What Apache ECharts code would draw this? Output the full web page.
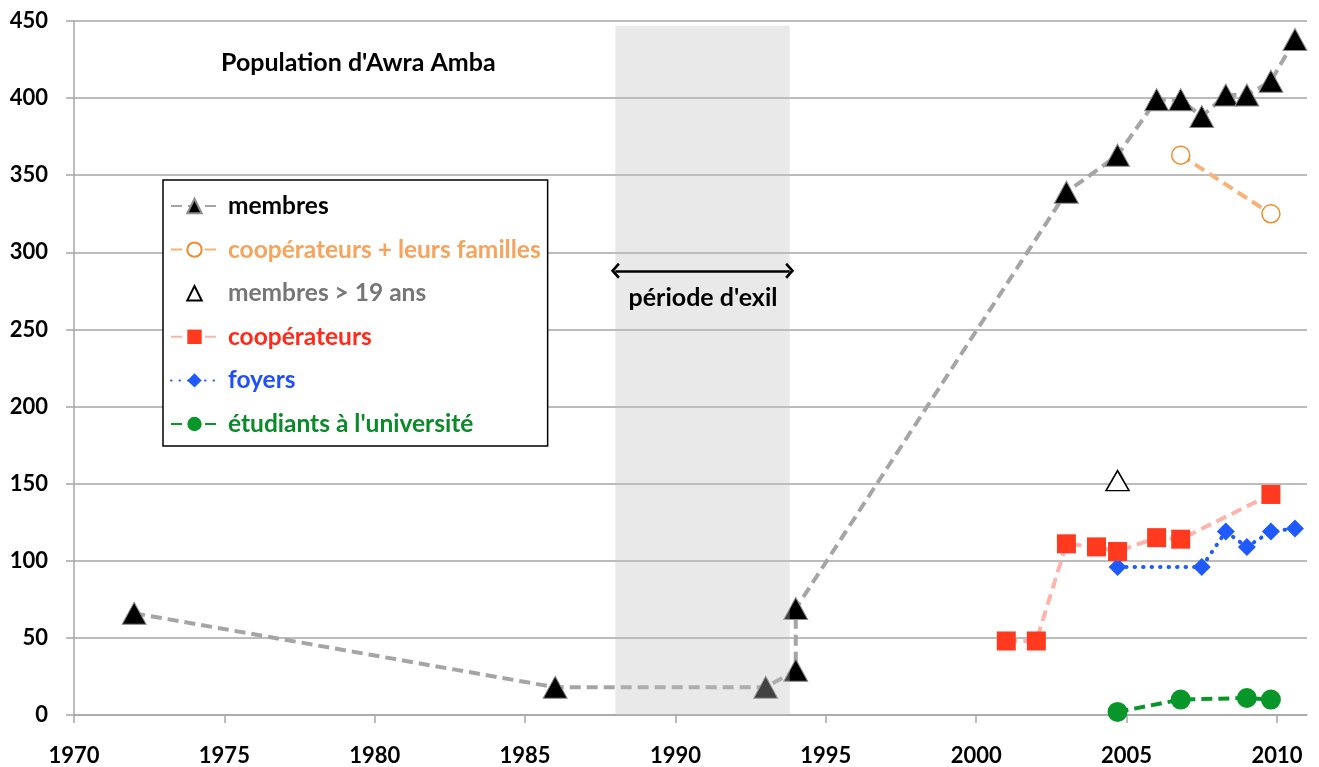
<!DOCTYPE html>
<html><head><meta charset="utf-8">
<script src="https://cdn.jsdelivr.net/npm/echarts@6/dist/echarts.min.js"></script>
<style>html,body{margin:0;padding:0;background:#fff}#c{width:1319px;height:767px}</style>
</head><body><div id="c"></div>
<script>
// ---- data ----
const membresYears  = [1972, 1986, 1993, 1994, 1994, 2003, 2004.7, 2006.0, 2006.8, 2007.5, 2008.3, 2009.0, 2009.8, 2010.6];
const membresValues = [66, 18, 18, 29, 69, 339, 363, 399, 399, 388, 402, 402, 411, 438];
const coopFamYears  = [2006.8, 2009.8];
const coopFamValues = [363, 325];
const adultYears    = [2004.7];
const adultValues   = [152];
const coopYears     = [2001, 2002, 2003, 2004, 2004.7, 2006, 2006.8, 2009.8];
const coopValues    = [48, 48, 111, 109, 106, 115, 114, 143];
const foyersYears   = [2004.7, 2007.5, 2008.3, 2009.0, 2009.8, 2010.6];
const foyersValues  = [96, 96, 119, 109, 119, 121];
const etudYears     = [2004.7, 2006.8, 2009.0, 2009.8];
const etudValues    = [2, 10, 11, 10];
const exileYears    = [1988, 1993.8];
const arrowLevel    = 288;
const xTickLabels   = [1970, 1975, 1980, 1985, 1990, 1995, 2000, 2005, 2010];
const seriesNames   = ['membres', 'coopérateurs + leurs familles', 'membres > 19 ans', 'coopérateurs', 'foyers', "étudiants à l'université"];
const titleText     = "Population d'Awra Amba";
const exileText     = "période d'exil";

const pairs = (xs, ys) => xs.map((x, i) => [x, ys[i]]);
const FONT = 'Lato';
const chevron = 'path://M8,0 L16,8 L14,10 L8,4 L2,10 L0,8 Z';

const chart = echarts.init(document.getElementById('c'), null, {renderer: 'canvas'});
chart.setOption({
  backgroundColor: '#fff',
  animation: false,
  grid: {left: 74, right: 12, top: 21, bottom: 52},
  title: [
    {text: titleText, left: 221, top: 50, padding: 0, z: 20,
     textStyle: {fontFamily: FONT, fontWeight: 'bold', fontSize: 25, color: '#000'}},
    {text: exileText, left: 703, textAlign: 'center', top: 285, padding: 0, z: 20,
     textStyle: {fontFamily: FONT, fontWeight: 'bold', fontSize: 25, color: '#000'}}
  ],
  legend: {
    orient: 'vertical', left: 163, top: 180,
    itemWidth: 47, itemHeight: 18, itemGap: 18.6,
    padding: [13.5, 7, 9.5, 7],
    borderColor: '#000', borderWidth: 1.5, backgroundColor: '#fff',
    selectedMode: false,
    textStyle: {fontFamily: FONT, fontWeight: 'bold', fontSize: 24.5, lineHeight: 25, padding: [0, 0, 0, 5]},
    data: [
      {name: seriesNames[0], textStyle: {color: '#000'}},
      {name: seriesNames[1], textStyle: {color: '#f7a35c'}},
      {name: seriesNames[2], textStyle: {color: '#767676'}},
      {name: seriesNames[3], textStyle: {color: '#ff2a1a'}},
      {name: seriesNames[4], textStyle: {color: '#1f4fff'}},
      {name: seriesNames[5], textStyle: {color: '#0a8a28'}}
    ]
  },
  xAxis: {
    type: 'value', min: 1970, max: 2011, interval: 5,
    axisLine: {show: true, onZero: false, lineStyle: {color: '#a6a6a6', width: 1.5}},
    axisTick: {show: true, length: 8, customValues: xTickLabels, lineStyle: {color: '#a6a6a6', width: 1.5}},
    axisLabel: {customValues: xTickLabels, formatter: v => String(v), margin: 30,
                fontFamily: FONT, fontWeight: 'bold', fontSize: 22, color: '#000'},
    splitLine: {show: false}
  },
  yAxis: {
    type: 'value', min: 0, max: 450, interval: 50,
    axisLine: {show: true, lineStyle: {color: '#a6a6a6', width: 1.5}},
    axisTick: {show: true, length: 8, lineStyle: {color: '#a6a6a6', width: 1.5}},
    axisLabel: {margin: 26, padding: [5, 0, 0, 0], fontFamily: FONT, fontWeight: 'bold', fontSize: 22, color: '#000'},
    splitLine: {show: true, lineStyle: {color: '#a6a6a6', width: 1.5}}
  },
  series: [
    {
      name: seriesNames[5], type: 'line', data: pairs(etudYears, etudValues),
      symbol: 'circle', symbolSize: 20,
      itemStyle: {color: '#08962a'},
      lineStyle: {color: '#08962a', width: 4, type: [11, 6]}
    },
    {
      name: seriesNames[4], type: 'line', data: pairs(foyersYears, foyersValues),
      symbol: 'diamond', symbolSize: 18,
      itemStyle: {color: '#1f5aff'},
      lineStyle: {color: '#1f5aff', width: 4, type: [0.5, 8], cap: 'round'}
    },
    {
      name: seriesNames[3], type: 'line', data: pairs(coopYears, coopValues),
      symbol: 'rect', symbolSize: 19,
      itemStyle: {color: '#ff3a1f'},
      lineStyle: {color: '#ffb3ad', width: 4, type: [11, 6]}
    },
    {
      name: seriesNames[2], type: 'line', data: pairs(adultYears, adultValues),
      symbol: 'triangle', symbolSize: [23, 20],
      itemStyle: {color: '#fff', borderColor: '#000', borderWidth: 1.5},
      lineStyle: {width: 0, opacity: 0}
    },
    {
      name: seriesNames[1], type: 'line', data: pairs(coopFamYears, coopFamValues),
      symbol: 'circle', symbolSize: 18,
      itemStyle: {color: '#fff', borderColor: '#ef8d2c', borderWidth: 1.5},
      lineStyle: {color: '#f7b27a', width: 4, type: [11, 6]}
    },
    {
      name: seriesNames[0], type: 'line', data: pairs(membresYears, membresValues),
      symbol: 'triangle', symbolSize: [24, 22],
      itemStyle: {color: '#000', borderColor: '#8c8c8c', borderWidth: 1},
      lineStyle: {color: '#a5a5a5', width: 4, type: [11, 6]}
    },
    {
      name: 'exil', type: 'line', data: [], z: 10, silent: true,
      markArea: {
        silent: true, z: 10,
        itemStyle: {color: 'rgba(190,190,190,0.34)'},
        data: [[{coord: [exileYears[0], 0]}, {coord: [exileYears[1], 447]}]]
      },
      markLine: {
        silent: true, z: 11,
        symbol: [chevron, chevron], symbolSize: [16, 9],
        lineStyle: {color: '#000', width: 2.5, type: 'solid'},
        label: {show: false},
        data: [[{coord: [exileYears[0], arrowLevel]}, {coord: [exileYears[1], arrowLevel]}]]
      }
    }
  ]
});
</script>
</body></html>
